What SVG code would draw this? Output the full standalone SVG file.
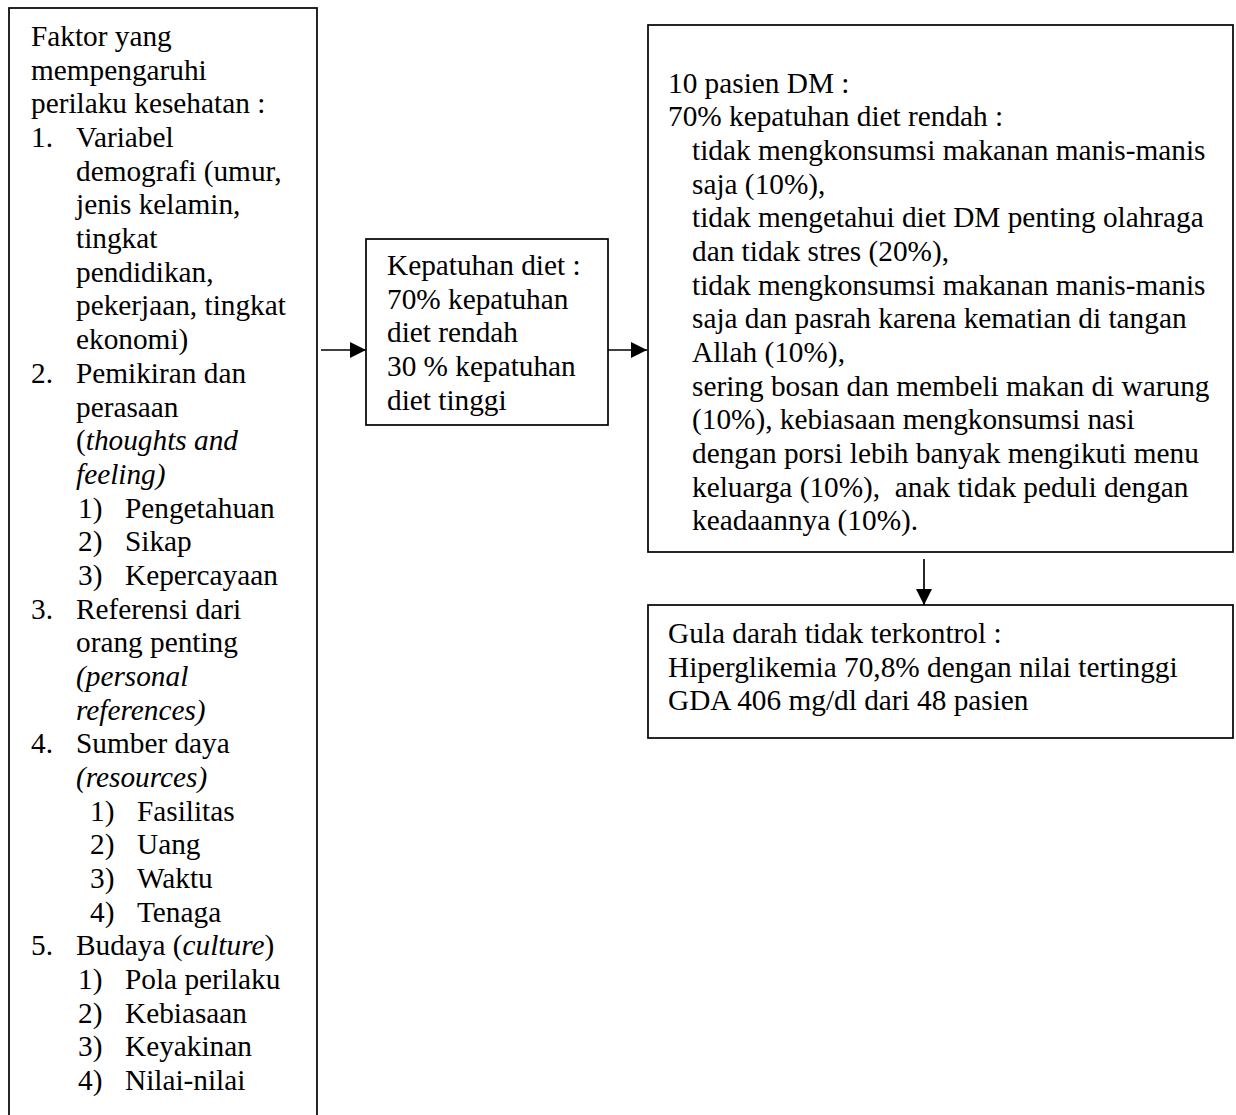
<svg xmlns="http://www.w3.org/2000/svg" width="1236" height="1115" viewBox="0 0 1236 1115">
<style>
text{font-family:"Liberation Serif","Times New Roman",serif;font-size:29.3px;fill:#000}
.box{fill:#fff;stroke:#000;stroke-width:1.7}
.edge{stroke:#000;stroke-width:1.7;fill:none}
.i{font-style:italic}
</style>
<defs>
<marker id="ah" viewBox="0 0 16 16" refX="16" refY="8" markerWidth="16" markerHeight="16" markerUnits="userSpaceOnUse" orient="auto">
<path d="M0,0 L16,8 L0,16 z" fill="#000"/>
</marker>
</defs>
<rect width="1236" height="1115" fill="#fff"/>
<g id="factors">
<rect class="box" x="9" y="8" width="308" height="1120"/>
<text x="31" y="46">Faktor yang</text>
<text x="31" y="79.7">mempengaruhi</text>
<text x="31" y="113.4">perilaku kesehatan :</text>
<text x="31" y="147">1.</text><text x="76" y="147">Variabel</text>
<text x="76" y="180.7">demografi (umur,</text>
<text x="76" y="214.4">jenis kelamin,</text>
<text x="76" y="248.1">tingkat</text>
<text x="76" y="281.8">pendidikan,</text>
<text x="76" y="315.4">pekerjaan, tingkat</text>
<text x="76" y="349.1">ekonomi)</text>
<text x="31" y="382.8">2.</text><text x="76" y="382.8">Pemikiran dan</text>
<text x="76" y="416.5">perasaan</text>
<text x="76" y="450.2">(<tspan class="i">thoughts and</tspan></text>
<text x="76" y="483.8" class="i">feeling)</text>
<text x="78" y="517.5">1)</text><text x="125" y="517.5">Pengetahuan</text>
<text x="78" y="551.2">2)</text><text x="125" y="551.2">Sikap</text>
<text x="78" y="584.9">3)</text><text x="125" y="584.9">Kepercayaan</text>
<text x="31" y="618.6">3.</text><text x="76" y="618.6">Referensi dari</text>
<text x="76" y="652.2">orang penting</text>
<text x="76" y="685.9" class="i">(personal</text>
<text x="76" y="719.6" class="i">references)</text>
<text x="31" y="753.3">4.</text><text x="76" y="753.3">Sumber daya</text>
<text x="76" y="787" class="i">(resources)</text>
<text x="90" y="820.6">1)</text><text x="137" y="820.6">Fasilitas</text>
<text x="90" y="854.3">2)</text><text x="137" y="854.3">Uang</text>
<text x="90" y="888">3)</text><text x="137" y="888">Waktu</text>
<text x="90" y="921.7">4)</text><text x="137" y="921.7">Tenaga</text>
<text x="31" y="955.4">5.</text><text x="76" y="955.4">Budaya (<tspan class="i">culture</tspan>)</text>
<text x="78" y="989">1)</text><text x="125" y="989">Pola perilaku</text>
<text x="78" y="1022.7">2)</text><text x="125" y="1022.7">Kebiasaan</text>
<text x="78" y="1056.4">3)</text><text x="125" y="1056.4">Keyakinan</text>
<text x="78" y="1090">4)</text><text x="125" y="1090">Nilai-nilai</text>
</g>
<g id="kepatuhan">
<rect class="box" x="366" y="239" width="242" height="186"/>
<text x="387" y="275">Kepatuhan diet :</text>
<text x="387" y="308.6">70% kepatuhan</text>
<text x="387" y="342.3">diet rendah</text>
<text x="387" y="376">30 % kepatuhan</text>
<text x="387" y="409.6">diet tinggi</text>
</g>
<g id="pasien">
<rect class="box" x="648" y="25" width="585" height="527"/>
<text x="668" y="92.7">10 pasien DM :</text>
<text x="668" y="126.4">70% kepatuhan diet rendah :</text>
<text x="692" y="160">tidak mengkonsumsi makanan manis-manis</text>
<text x="692" y="193.7">saja (10%),</text>
<text x="692" y="227.3">tidak mengetahui diet DM penting olahraga</text>
<text x="692" y="261">dan tidak stres (20%),</text>
<text x="692" y="294.6">tidak mengkonsumsi makanan manis-manis</text>
<text x="692" y="328.3">saja dan pasrah karena kematian di tangan</text>
<text x="692" y="362">Allah (10%),</text>
<text x="692" y="395.6">sering bosan dan membeli makan di warung</text>
<text x="692" y="429.3">(10%), kebiasaan mengkonsumsi nasi</text>
<text x="692" y="463">dengan porsi lebih banyak mengikuti menu</text>
<text x="692" y="496.6" xml:space="preserve">keluarga (10%),  anak tidak peduli dengan</text>
<text x="692" y="530.2">keadaannya (10%).</text>
</g>
<g id="gula">
<rect class="box" x="648" y="605" width="585" height="133"/>
<text x="668" y="643">Gula darah tidak terkontrol :</text>
<text x="668" y="676.6">Hiperglikemia 70,8% dengan nilai tertinggi</text>
<text x="668" y="710.3">GDA 406 mg/dl dari 48 pasien</text>
</g>
<g id="connectors">
<line class="edge" x1="321" y1="350" x2="366" y2="350" marker-end="url(#ah)"/>
<line class="edge" x1="608" y1="350" x2="647" y2="350" marker-end="url(#ah)"/>
<line class="edge" x1="924" y1="559" x2="924" y2="605" marker-end="url(#ah)"/>
</g>
</svg>
